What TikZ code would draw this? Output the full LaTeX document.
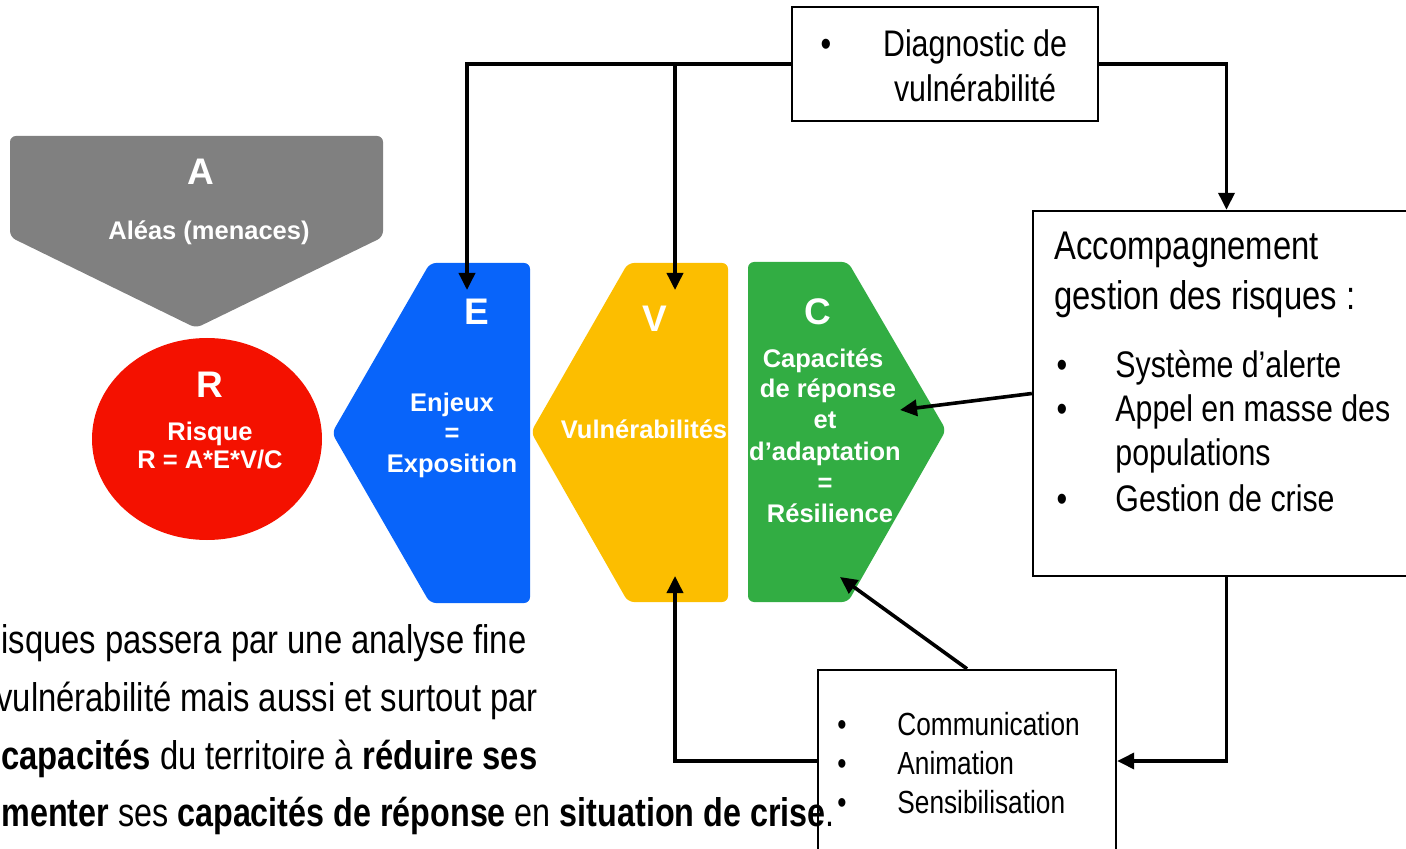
\documentclass[tikz,border=0pt]{standalone}
\usepackage{fontspec}
\setmainfont{Liberation Sans}
\newfontfamily\narrow[FakeStretch=0.82]{Liberation Sans}
\usetikzlibrary{arrows.meta,calc}
\definecolor{cgray}{RGB}{128,128,128}
\definecolor{cred}{RGB}{244,17,0}
\definecolor{cblue}{RGB}{8,100,250}
\definecolor{cyellow}{RGB}{252,190,0}
\definecolor{cgreen}{RGB}{50,173,67}
\begin{document}
\begin{tikzpicture}[x=0.5pt,y=-0.5pt,
  lbl/.style={text=white,font=\bfseries\fontsize{12.75pt}{15.3pt}\selectfont,inner sep=0,anchor=base},
  big/.style={text=white,font=\bfseries\fontsize{18.5pt}{22pt}\selectfont,inner sep=0,anchor=base},
  box/.style={draw,line width=1.2pt,inner sep=0},
  arr/.style={line width=1.8pt,-{Triangle[length=8.5pt,width=8pt]}},
  tdiag/.style={font=\narrow\fontsize{18.5pt}{22pt}\selectfont,inner sep=0,anchor=base},
  tacc/.style={font=\narrow\fontsize{20pt}{24pt}\selectfont,inner sep=0,anchor=base west},
  tlist/.style={font=\narrow\fontsize{18.5pt}{22pt}\selectfont,inner sep=0,anchor=base west},
  tcom/.style={font=\narrow\fontsize{16pt}{19pt}\selectfont,inner sep=0,anchor=base west},
  bul/.style={inner sep=0,anchor=base},
  tbody/.style={font=\narrow\fontsize{20pt}{24pt}\selectfont,inner sep=0,anchor=base west},
]
\useasboundingbox (0,0) rectangle (1406,849);

% coloured shapes
\fill[cgray,rounded corners=3] (10,136) -- (383,136) -- (383,237) -- (196,328) -- (10,237) -- cycle;
\fill[cred] (207,439) ellipse [x radius=115, y radius=101];
\fill[cblue,rounded corners=3] (332,433) -- (430,263) -- (530,263) -- (530,603) -- (430,603) -- cycle;
\fill[cyellow,rounded corners=3] (531,432) -- (628,263) -- (728,263) -- (728,602) -- (628,602) -- cycle;
\fill[cgreen,rounded corners=3] (748,262) -- (848,262) -- (946,430) -- (848,602) -- (748,602) -- cycle;

% labels in shapes
\node[big] (lA) at (201,185) {A};
\node[lbl] (lAleas) at (209,240) {Aléas (menaces)};
\node[big] (lR) at (210,398) {R};
\node[lbl] (lRisque) at (210,440) {Risque};
\node[lbl] (lForm) at (210,468) {R = A*E*V/C};
\node[big] (lE) at (477,325) {E};
\node[lbl] (lEnj) at (452,412) {Enjeux};
\node[lbl] (lEq) at (452,442) {=};
\node[lbl] (lExp) at (452,473) {Exposition};
\node[big] (lV) at (655,332) {V};
\node[lbl] (lVul) at (644,438) {Vulnérabilités};
\node[big] (lC) at (818,325) {C};
\node[lbl] (lC1) at (823,368) {Capacités};
\node[lbl] (lC2) at (828,398) {de réponse};
\node[lbl] (lC3) at (825,429) {et};
\node[lbl] (lC4) at (825,460) {d’adaptation};
\node[lbl] (lC5) at (825,491) {=};
\node[lbl] (lC6) at (830,522) {Résilience};

% boxes (sizes in pt = px/2)
\node[box,minimum width=153pt,minimum height=57pt] (diag) at (945,64) {};
\node[box,minimum width=193.5pt,minimum height=182.5pt] (acc) at (1226.5,393.5) {};
\node[box,minimum width=149pt,minimum height=91pt] (com) at (967,761) {};

% box texts
\node[bul,font=\narrow\fontsize{18.5pt}{22pt}\selectfont] (db) at (826,57) {•};
\node[tdiag] (d1) at (975,57) {Diagnostic de};
\node[tdiag] (d2) at (975,102) {vulnérabilité};

\node[tacc] (a1) at (1054,260) {Accompagnement};
\node[tacc] (a2) at (1054,310) {gestion des risques :};
\node[bul,font=\narrow\fontsize{18.5pt}{22pt}\selectfont] (ab1) at (1062,378) {•};
\node[bul,font=\narrow\fontsize{18.5pt}{22pt}\selectfont] (ab2) at (1062,422) {•};
\node[bul,font=\narrow\fontsize{18.5pt}{22pt}\selectfont] (ab3) at (1062,511) {•};
\node[tlist] (al1) at (1115,378) {Système d’alerte};
\node[tlist] (al2) at (1115,422) {Appel en masse des};
\node[tlist] (al3) at (1115,466) {populations};
\node[tlist] (al4) at (1115,511) {Gestion de crise};

\node[bul,font=\narrow\fontsize{16pt}{19pt}\selectfont] (cb1) at (842,735) {•};
\node[bul,font=\narrow\fontsize{16pt}{19pt}\selectfont] (cb2) at (842,774) {•};
\node[bul,font=\narrow\fontsize{16pt}{19pt}\selectfont] (cb3) at (842,813) {•};
\node[tcom] (c1) at (897,735) {Communication};
\node[tcom] (c2) at (897,774) {Animation};
\node[tcom] (c3) at (897,813) {Sensibilisation};

% body text (clipped at the left edge)
\node[tbody] (t1) at (1,653) {isques passera par une analyse fine};
\node[tbody] (t2) at (-4,711) {vulnérabilité mais aussi et surtout par};
\node[tbody] (t3) at (1,769) {\textbf{capacités} du territoire à \textbf{réduire ses}};
\node[tbody,xscale=0.985] (t4) at (1,826) {\textbf{menter} ses \textbf{capacités de réponse} en \textbf{situation de crise}.};

% arrow targets
\coordinate (Etip) at (467,290);
\coordinate (Vtip) at (675,290);
\coordinate (Ctip1) at (900,410);
\coordinate (Ctip2) at (840,577);
\coordinate (Vbot) at (675,576);

% connectors
\draw[arr] (diag.west) -| (Etip);
\draw[arr] (diag.west -| Vtip) -- (Vtip);
\draw[arr] (diag.east) -| (acc.north);
\draw[arr] (acc.west) -- (Ctip1);
\draw[arr] (acc.south) |- (com.east);
\draw[arr] (com.west) -| (Vbot);
\draw[arr] (com.north) -- (Ctip2);
\end{tikzpicture}
\end{document}
